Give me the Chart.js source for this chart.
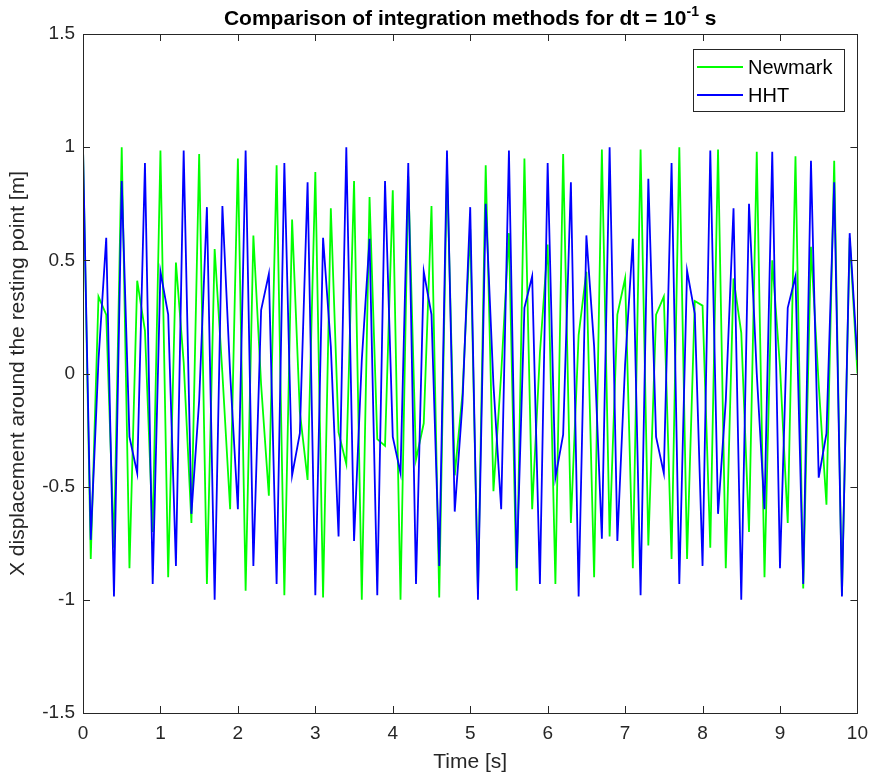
<!DOCTYPE html>
<html><head><meta charset="utf-8">
<script src="https://cdn.jsdelivr.net/npm/chart.js@4.4.1/dist/chart.umd.min.js"></script>
<style>html,body{margin:0;padding:0;background:#fff;overflow:hidden}#wrap{width:877px;height:780px;position:relative}</style>
</head><body><div id="wrap"><canvas id="c"></canvas></div>
<script>
const timeValues = [0,0.1,0.2,0.3,0.4,0.5,0.6,0.7,0.8,0.9,1,1.1,1.2,1.3,1.4,1.5,1.6,1.7,1.8,1.9,2,2.1,2.2,2.3,2.4,2.5,2.6,2.7,2.8,2.9,3,3.1,3.2,3.3,3.4,3.5,3.6,3.7,3.8,3.9,4,4.1,4.2,4.3,4.4,4.5,4.6,4.7,4.8,4.9,5,5.1,5.2,5.3,5.4,5.5,5.6,5.7,5.8,5.9,6,6.1,6.2,6.3,6.4,6.5,6.6,6.7,6.8,6.9,7,7.1,7.2,7.3,7.4,7.5,7.6,7.7,7.8,7.9,8,8.1,8.2,8.3,8.4,8.5,8.6,8.7,8.8,8.9,9,9.1,9.2,9.3,9.4,9.5,9.6,9.7,9.8,9.9,10];

const newmarkValues = [1.0,-0.82,0.34,0.26,-0.77,1.0,-0.86,0.41,0.19,-0.70,
0.985,-0.90,0.49,0.05,-0.66,0.97,-0.93,0.55,0.0,-0.60,
0.95,-0.96,0.61,-0.05,-0.54,0.92,-0.98,0.68,-0.17,-0.47,
0.89,-0.99,0.73,-0.26,-0.40,0.85,-1.0,0.78,-0.29,-0.32,
0.81,-1.0,0.87,-0.38,-0.22,0.74,-0.99,0.91,-0.45,-0.09,
0.64,-0.97,0.92,-0.52,0.0,0.62,-0.96,0.95,-0.60,0.09,
0.57,-0.93,0.97,-0.66,0.17,0.45,-0.90,0.99,-0.72,0.26,
0.42,-0.86,0.99,-0.76,0.26,0.34,-0.82,1.0,-0.82,0.32,
0.30,-0.77,0.99,-0.86,0.42,0.18,-0.70,0.98,-0.90,0.50,
0.03,-0.66,0.96,-0.95,0.56,-0.05,-0.58,0.94,-0.98,0.60,
0.0];

const hhtValues = [1.0,-0.735,0.06,0.60,-0.985,0.85,-0.28,-0.44,0.93,-0.93,
0.45,0.26,-0.85,0.985,-0.62,-0.12,0.735,-1.0,0.74,0.0,
-0.60,0.985,-0.85,0.28,0.44,-0.93,0.93,-0.45,-0.265,0.845,
-0.98,0.60,0.12,-0.72,1.0,-0.74,0.06,0.595,-0.98,0.85,
-0.28,-0.44,0.93,-0.93,0.45,0.26,-0.85,0.985,-0.61,-0.13,
0.735,-1.0,0.75,-0.05,-0.60,0.985,-0.86,0.29,0.43,-0.93,
0.93,-0.46,-0.27,0.845,-0.985,0.61,0.12,-0.73,1.0,-0.74,
0.04,0.595,-0.98,0.86,-0.28,-0.44,0.93,-0.93,0.455,0.265,
-0.85,0.985,-0.62,-0.12,0.73,-1.0,0.75,0.0,-0.60,0.98,
-0.86,0.29,0.43,-0.93,0.94,-0.46,-0.265,0.845,-0.985,0.62,
0.06];

const seriesNames = ["Newmark", "HHT"];
const seriesColors = ["#00FF00", "#0000FF"];
const yTickValues = [-1.5, -1, -0.5, 0, 0.5, 1, 1.5];
const yTickLabels = ["-1.5", "-1", "-0.5", "0", "0.5", "1", "1.5"];
const xTickValues = [0,1,2,3,4,5,6,7,8,9,10];
const xTickLabels = ["0","1","2","3","4","5","6","7","8","9","10"];
const titleMain = "Comparison of integration methods for dt = 10";
const titleSup = "-1";
const titleEnd = " s";
const xLabel = "Time [s]";
const yLabel = "X displacement around the resting point [m]";

const FONT = "'Liberation Sans', Arial, sans-serif";
const AXC = "#262626";

function toXY(vals){ return vals.map((v,i)=>({x: timeValues[i], y: v})); }

const decor = {
  id: 'decor',
  afterDraw(chart){
    const ctx = chart.ctx, a = chart.chartArea;
    const xs = chart.scales.x, ys = chart.scales.y;
    ctx.save();
    ctx.strokeStyle = AXC; ctx.lineWidth = 1;
    ctx.strokeRect(Math.round(a.left)+0.5, Math.round(a.top)+0.5, Math.round(a.right-a.left), Math.round(a.bottom-a.top));
    const tl = 7;
    ctx.beginPath();
    yTickValues.forEach(v=>{
      const y = Math.round(ys.getPixelForValue(v))+0.5;
      ctx.moveTo(a.left, y); ctx.lineTo(a.left+tl, y);
      ctx.moveTo(a.right, y); ctx.lineTo(a.right-tl, y);
    });
    xTickValues.forEach(v=>{
      const x = Math.round(xs.getPixelForValue(v))+0.5;
      ctx.moveTo(x, a.bottom); ctx.lineTo(x, a.bottom-tl);
      ctx.moveTo(x, a.top); ctx.lineTo(x, a.top+tl);
    });
    ctx.stroke();
    const fMain = "bold 21px " + FONT, fSup = "bold 14px " + FONT;
    ctx.font = fMain; const w1 = ctx.measureText(titleMain).width; const w3 = ctx.measureText(titleEnd).width;
    ctx.font = fSup; const w2 = ctx.measureText(titleSup).width;
    const total = w1+w2+w3;
    let x0 = (a.left+a.right)/2 - total/2;
    const base = 25;
    ctx.fillStyle = "#000"; ctx.textBaseline = "alphabetic"; ctx.textAlign = "left";
    ctx.font = fMain; ctx.fillText(titleMain, x0, base);
    ctx.font = fSup; ctx.fillText(titleSup, x0+w1, base-9);
    ctx.font = fMain; ctx.fillText(titleEnd, x0+w1+w2, base);
    const lx = 693.5, ly = 49.5, lw = 151, lh = 62;
    ctx.fillStyle = "#fff"; ctx.fillRect(lx, ly, lw, lh);
    ctx.strokeStyle = AXC; ctx.lineWidth = 1; ctx.strokeRect(lx, ly, lw, lh);
    const rows = [67, 95];
    chart.data.datasets.forEach((ds, i)=>{
      ctx.strokeStyle = ds.borderColor; ctx.lineWidth = 1.8;
      ctx.beginPath(); ctx.moveTo(697, rows[i]); ctx.lineTo(743, rows[i]); ctx.stroke();
      ctx.fillStyle = "#000"; ctx.font = "20px " + FONT; ctx.textBaseline = "middle";
      ctx.fillText(ds.label, 748, rows[i]+1);
    });
    ctx.restore();
  }
};

new Chart(document.getElementById('c'), {
  type: 'line',
  data: {
    datasets: [
      { label: seriesNames[0], data: toXY(newmarkValues), borderColor: seriesColors[0], backgroundColor: seriesColors[0], borderWidth: 1.8, pointRadius: 0, tension: 0, order: 1 },
      { label: seriesNames[1], data: toXY(hhtValues), borderColor: seriesColors[1], backgroundColor: seriesColors[1], borderWidth: 1.8, pointRadius: 0, tension: 0, order: 0 }
    ]
  },
  options: {
    responsive: true, maintainAspectRatio: false, animation: false,
    devicePixelRatio: 1,
    layout: { padding: { left: 0, right: 17, top: 34, bottom: 0 } },
    plugins: { legend: { display: false }, tooltip: { enabled: false }, title: { display: false } },
    scales: {
      x: {
        type: 'linear', min: 0, max: 10,
        afterFit(s){ s.height = 67; },
        afterBuildTicks(s){ s.ticks = xTickValues.map(v=>({value:v})); },
        grid: { display: false, drawTicks: false },
        border: { display: false },
        ticks: { color: AXC, font: { family: FONT, size: 19 }, padding: 9, maxRotation: 0, autoSkip: false,
                 callback: (v) => { const i = xTickValues.indexOf(v); return i >= 0 ? xTickLabels[i] : ''; } },
        title: { display: true, text: xLabel, color: AXC, font: { family: FONT, size: 21 }, padding: { top: 0, bottom: 5 } }
      },
      y: {
        type: 'linear', min: -1.5, max: 1.5,
        afterFit(s){ s.width = 83; },
        afterBuildTicks(s){ s.ticks = yTickValues.map(v=>({value:v})); },
        grid: { display: false, drawTicks: false },
        border: { display: false },
        ticks: { color: AXC, font: { family: FONT, size: 19 }, padding: 8, autoSkip: false,
                 callback: (v) => { const i = yTickValues.indexOf(v); return i >= 0 ? yTickLabels[i] : ''; } },
        title: { display: true, text: yLabel, color: AXC, font: { family: FONT, size: 21 }, padding: { top: 6, bottom: 0 } }
      }
    }
  },
  plugins: [decor]
});
</script>
</body></html>
